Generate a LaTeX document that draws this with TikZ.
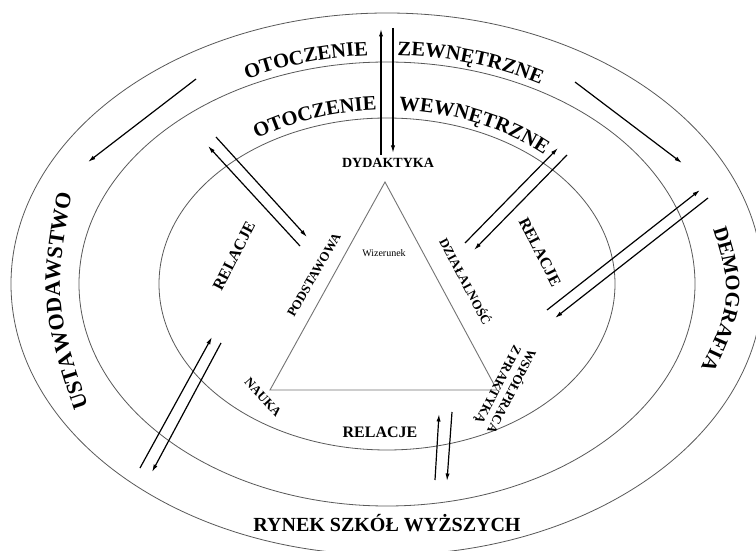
\documentclass[tikz,border=0pt]{standalone}
\usepackage{fontspec}
\setmainfont{Liberation Serif}
\usetikzlibrary{arrows.meta,decorations.text,calc}
\newcommand\bigtxt{\bfseries\fontsize{20.5}{20.5}\selectfont}
\newcommand\hugetxt{\bfseries\fontsize{22}{22}\selectfont}
\begin{document}
\begin{tikzpicture}[x=1pt,y=1pt,
  ell/.style={draw=black!65, line width=0.8pt},
  tri/.style={draw=black!55, line width=0.9pt},
  arr/.style={line width=1.2pt, -{Latex[length=7.5pt,width=4.2pt]}},
  big/.style={font=\bfseries\fontsize{20}{20}\selectfont, inner sep=0pt},
  midl/.style={font=\bfseries\fontsize{16}{16}\selectfont, inner sep=0pt},
  small/.style={font=\bfseries\fontsize{13}{15}\selectfont, inner sep=0pt},
  curvtext/.style={decorate, decoration={text along path, text align=center, text={|\bigtxt|#1}}},
  curvhuge/.style={decorate, decoration={text along path, text align=center, text={|\hugetxt|#1}}}
]
\useasboundingbox (0,0) rectangle (756,550);
\fill[white] (0,0) rectangle (756,550);
\coordinate (C) at (387,266);
% ellipses
\draw[ell] (C) ellipse [x radius=376pt, y radius=271pt];
\draw[ell] (C) ellipse [x radius=308pt, y radius=222pt];
\draw[ell] (C) ellipse [x radius=228pt, y radius=166pt];
% triangle
\coordinate (tA) at (385,368);
\coordinate (tL) at (270,160);
\coordinate (tR) at (497,160);
\draw[tri] (tA) -- (tL) -- (tR) -- cycle;
% curved labels
\path[curvtext=OTOCZENIE] ($(C)+(125.25:314pt and 229pt)$) arc[start angle=125.25, end angle=85.25, x radius=314pt, y radius=229pt];
\path[curvtext=ZEWNĘTRZNE] ($(C)+(96.1:314pt and 229pt)$) arc[start angle=96.1, end angle=52.1, x radius=314pt, y radius=229pt];
\path[curvtext=OTOCZENIE] ($(C)+(133.5:235pt and 174pt)$) arc[start angle=133.5, end angle=83.5, x radius=235pt, y radius=174pt];
\path[curvtext=WEWNĘTRZNE] ($(C)+(95:235pt and 174pt)$) arc[start angle=95, end angle=39, x radius=235pt, y radius=174pt];
\coordinate (uA) at (96,120);
\coordinate (uP) at (52,250);
\coordinate (uB) at (76,380);
\path[curvhuge=USTAWODAWSTWO] (uA) .. controls (uP) .. (uB);
\coordinate (dA) at (704,348);
\coordinate (dP) at (736,252);
\coordinate (dB) at (688,156);
\path[curvtext=DEMOGRAFIA] (dA) .. controls (dP) .. (dB);
% straight labels
\node[big] (rynek) at (387,27) {RYNEK SZKÓŁ WYŻSZYCH};
\node[small, font=\bfseries\fontsize{14}{14}\selectfont] (dyd) at (388,387) {DYDAKTYKA};
\node[font=\fontsize{10}{10}\selectfont, inner sep=0pt] (wiz) at (384,297) {Wizerunek};
\node[small, rotate=60] (pod) at (314,275) {PODSTAWOWA};
\node[small, rotate=-62] (dzi) at (466,269) {DZIAŁALNOŚĆ};
\node[midl, rotate=63] (relL) at (234,294) {RELACJE};
\node[midl, rotate=-63] (relR) at (540,298) {RELACJE};
\node[midl] (relB) at (380,118) {RELACJE};
\node[small, rotate=-48] (nauka) at (263,153) {NAUKA};
\node[small, rotate=-117, align=center] (wsp) at (505,162) {WSPÓŁPRACA\\Z PRAKTYKĄ};
% arrow end points
\coordinate (a1s) at (381,395); \coordinate (a1e) at (381,521);
\coordinate (b1s) at (393,522); \coordinate (b1e) at (393,397);
\coordinate (a2s) at (196,471); \coordinate (a2e) at (88,388);
\coordinate (a3s) at (575,468); \coordinate (a3e) at (682,387);
\coordinate (a4s) at (300,304); \coordinate (a4e) at (208,404);
\coordinate (b4s) at (216,413); \coordinate (b4e) at (307,313);
\coordinate (a5s) at (465,307); \coordinate (a5e) at (558,402);
\coordinate (b5s) at (567,395); \coordinate (b5e) at (474,300);
\coordinate (a6s) at (547,240); \coordinate (a6e) at (700,360);
\coordinate (b6s) at (708,352); \coordinate (b6e) at (555,232);
\coordinate (a7s) at (140,82); \coordinate (a7e) at (212,213);
\coordinate (b7s) at (221,207); \coordinate (b7e) at (152,78);
\coordinate (a8s) at (435,70); \coordinate (a8e) at (439,136);
\coordinate (b8s) at (452,138); \coordinate (b8e) at (447,69);
\foreach \p in {a1,b1,a2,a3,a4,b4,a5,b5,a6,b6,a7,b7,a8,b8}
  \draw[arr] (\p s) -- (\p e);
\end{tikzpicture}
\end{document}
